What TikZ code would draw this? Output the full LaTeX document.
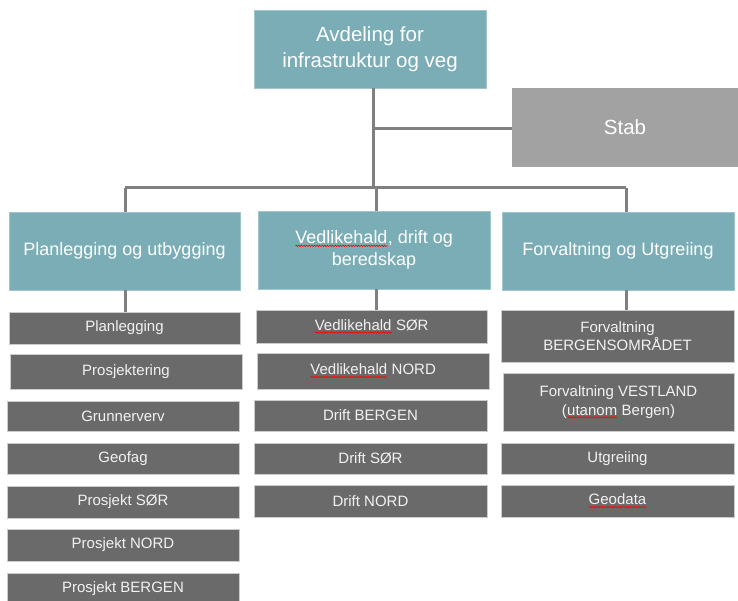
\documentclass[tikz,border=0pt]{standalone}
\usepackage{fontspec}
\setmainfont{Liberation Sans}
\usetikzlibrary{decorations.pathmorphing}
\definecolor{teal1}{HTML}{7AADB5}
\definecolor{stabgray}{HTML}{A2A2A2}
\definecolor{dark1}{HTML}{6A6A6A}
\definecolor{linegray}{HTML}{808080}
\newcommand\spellw[1]{\tikz[baseline=(w.base)]{\node[inner sep=0pt,outer sep=0pt,draw=none,fill=none,minimum width=0pt,minimum height=0pt,anchor=base](w){#1};\draw[red,line width=0.6pt,decorate,decoration={snake,amplitude=0.7pt,segment length=2.6pt}] ([yshift=-2.2pt]w.base west) -- ([yshift=-2.2pt]w.base east);}}
\begin{document}
\begin{tikzpicture}[x=1pt,y=-1pt,
  tealbox/.style={fill=teal1,draw=teal1!70!white,line width=0.6pt,text=white,align=center,inner sep=0pt},
  stabbox/.style={fill=stabgray,draw=none,text=white,align=center,inner sep=0pt,font=\fontsize{20.5}{24}\selectfont},
  subbox/.style={fill=dark1,draw=gray!40,line width=0.6pt,text=white!95!black,align=center,inner sep=0pt,minimum width=232pt,font=\fontsize{15}{18.5}\selectfont},
  conn/.style={draw=linegray,line width=3pt}]
\useasboundingbox (0,0) rectangle (738,601);
\begin{scope}
\clip (0,0) rectangle (738,601);
% top
\node[tealbox,minimum width=232pt,minimum height=78pt,font=\fontsize{20.5}{26}\selectfont] (top) at (370,49) {Avdeling for\\infrastruktur og veg};
\node[stabbox,minimum width=226pt,minimum height=79pt] (stab) at (625,127.5) {Stab};
% level 2
\node[tealbox,minimum width=231pt,minimum height=78pt,font=\fontsize{18}{22}\selectfont] (A) at (124.5,251) {Planlegging og utbygging};
\node[tealbox,minimum width=232pt,minimum height=78pt,font=\fontsize{18}{22}\selectfont] (B) at (374,250) {\spellw{Vedlikehald}, drift og\\beredskap};
\node[tealbox,minimum width=232pt,minimum height=78pt,font=\fontsize{18}{22}\selectfont] (C) at (618,251) {Forvaltning og Utgreiing};
% column A
\node[subbox,minimum width=231pt,minimum height=32pt] (a1) at (124.5,328) {Planlegging};
\node[subbox,minimum width=232pt,minimum height=35pt] (a2) at (126,371.5) {Prosjektering};
\node[subbox,minimum height=30pt] (a3) at (123,416) {Grunnerverv};
\node[subbox,minimum height=31pt] (a4) at (123,458.5) {Geofag};
\node[subbox,minimum height=32pt] (a5) at (123,502) {Prosjekt SØR};
\node[subbox,minimum height=32pt] (a6) at (123,545) {Prosjekt NORD};
\node[subbox,minimum height=31pt] (a7) at (123,588.5) {Prosjekt BERGEN};
% column B
\node[subbox,minimum width=231pt,minimum height=33pt] (b1) at (371.5,326.5) {\spellw{Vedlikehald} SØR};
\node[subbox,minimum width=232pt,minimum height=36pt] (b2) at (373,371) {\spellw{Vedlikehald} NORD};
\node[subbox,minimum width=233pt,minimum height=31pt] (b3) at (370.5,415.5) {Drift BERGEN};
\node[subbox,minimum width=233pt,minimum height=31pt] (b4) at (370.5,458.5) {Drift SØR};
\node[subbox,minimum width=233pt,minimum height=32pt] (b5) at (370.5,501) {Drift NORD};
% column C
\node[subbox,minimum width=233pt,minimum height=52pt] (c1) at (617.5,336) {Forvaltning\\BERGENSOMRÅDET};
\node[subbox,minimum width=231pt,minimum height=58pt] (c2) at (618.5,402) {Forvaltning VESTLAND\\(\spellw{utanom} Bergen)};
\node[subbox,minimum width=233pt,minimum height=31pt] (c3) at (617.5,458.5) {Utgreiing};
\node[subbox,minimum width=233pt,minimum height=32pt] (c4) at (617.5,501) {\spellw{Geodata}};
% junctions
\coordinate (jT) at (373,188);
\coordinate (jS) at (373,129);
\coordinate (jA) at (125,188);
\coordinate (jB) at (376,188);
\coordinate (jC) at (626,188);
% connectors
\draw[conn] (top.south -| jT) -- (jT);
\draw[conn] (jS) -- (stab.west |- jS);
\draw[conn] (jA) -- (jC);
\draw[conn] (jA) -- (A.north -| jA);
\draw[conn] (jB) -- (B.north -| jB);
\draw[conn] (jC) -- (C.north -| jC);
\draw[conn] (A.south -| jA) -- (a1.north -| jA);
\draw[conn] (B.south -| jB) -- (b1.north -| jB);
\draw[conn] (C.south -| jC) -- (c1.north -| jC);
\end{scope}
\end{tikzpicture}
\end{document}
